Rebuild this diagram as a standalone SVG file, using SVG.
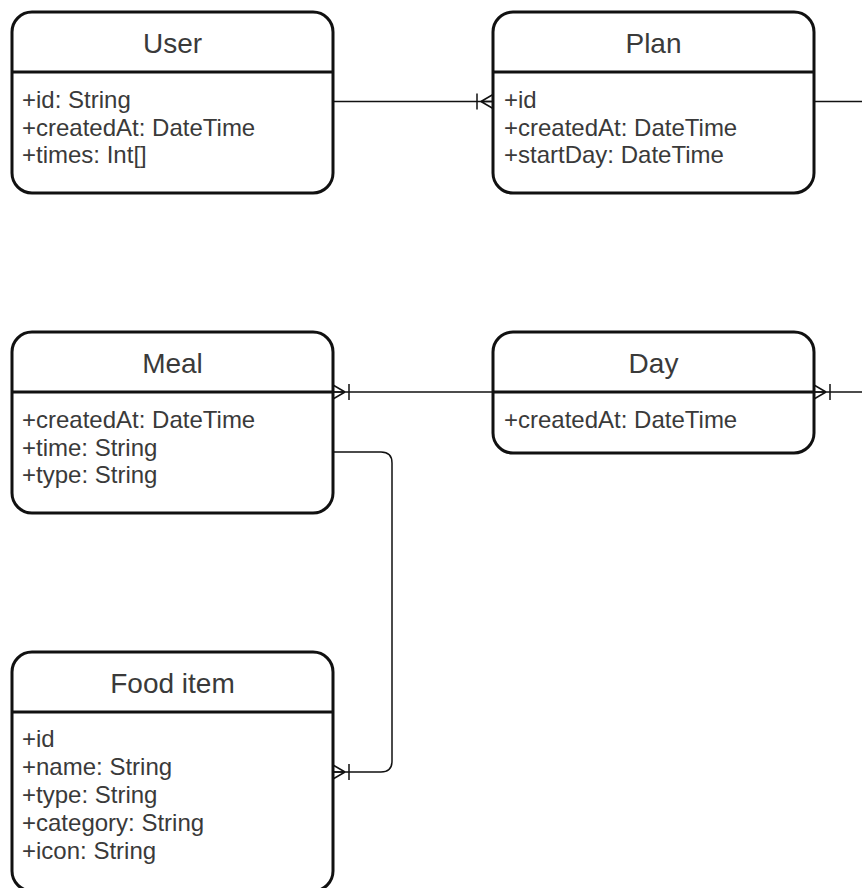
<svg xmlns="http://www.w3.org/2000/svg" width="862" height="888" viewBox="0 0 862 888">
<style>
.box{fill:#fff;stroke:#111;stroke-width:3}
.div{stroke:#111;stroke-width:3;fill:none}
.title{font-family:"Liberation Sans",Arial,sans-serif;font-size:28px;fill:#3a3a3a;text-anchor:middle}
.row{font-family:"Liberation Sans",Arial,sans-serif;font-size:24px;fill:#3a3a3a}
.conn{fill:none;stroke:#111;stroke-width:1.5}
</style>
<defs>
<marker id="oneMany" markerUnits="userSpaceOnUse" markerWidth="20" markerHeight="20" viewBox="0 0 20 20" refX="18" refY="10" orient="auto" overflow="visible">
<path d="M2,2 V18 M6,10 L18,3 M6,10 L18,17 M6,10 H18" fill="none" stroke="#111" stroke-width="1.5"/>
</marker>
</defs>
<rect width="862" height="888" fill="#fff"/>
<g id="connectors">
<path class="conn" d="M333,101.5 H493" marker-end="url(#oneMany)"/>
<path class="conn" d="M814,101.5 H862"/>
<path class="conn" d="M493,392 H333" marker-end="url(#oneMany)"/>
<path class="conn" d="M862,392 H814" marker-end="url(#oneMany)"/>
<path class="conn" d="M333,452 H381 Q392,452 392,463 V761 Q392,772 381,772 H333" marker-end="url(#oneMany)"/>
</g>
<g id="user">
<rect class="box" x="12" y="12" width="321" height="181" rx="20"/>
<path class="div" d="M12,72 H333"/>
<text class="title" x="172.5" y="53">User</text>
<text class="row" x="22" y="108">+id: String</text>
<text class="row" x="22" y="135.5">+createdAt: DateTime</text>
<text class="row" x="22" y="163">+times: Int[]</text>
</g>
<g id="plan">
<rect class="box" x="493" y="12" width="321" height="181" rx="20"/>
<path class="div" d="M493,72 H814"/>
<text class="title" x="653.5" y="53">Plan</text>
<text class="row" x="504" y="108">+id</text>
<text class="row" x="504" y="135.5">+createdAt: DateTime</text>
<text class="row" x="504" y="163">+startDay: DateTime</text>
</g>
<g id="meal">
<rect class="box" x="12" y="332" width="321" height="181" rx="20"/>
<path class="div" d="M12,392 H333"/>
<text class="title" x="172.5" y="373">Meal</text>
<text class="row" x="22" y="428">+createdAt: DateTime</text>
<text class="row" x="22" y="455.5">+time: String</text>
<text class="row" x="22" y="483">+type: String</text>
</g>
<g id="day">
<rect class="box" x="493" y="332" width="321" height="121" rx="20"/>
<path class="div" d="M493,392 H814"/>
<text class="title" x="653.5" y="373">Day</text>
<text class="row" x="504" y="428">+createdAt: DateTime</text>
</g>
<g id="food-item">
<rect class="box" x="12" y="652" width="321" height="239" rx="20"/>
<path class="div" d="M12,712 H333"/>
<text class="title" x="172.5" y="693">Food item</text>
<text class="row" x="22" y="747">+id</text>
<text class="row" x="22" y="775">+name: String</text>
<text class="row" x="22" y="803">+type: String</text>
<text class="row" x="22" y="831">+category: String</text>
<text class="row" x="22" y="858.5">+icon: String</text>
</g>
</svg>
